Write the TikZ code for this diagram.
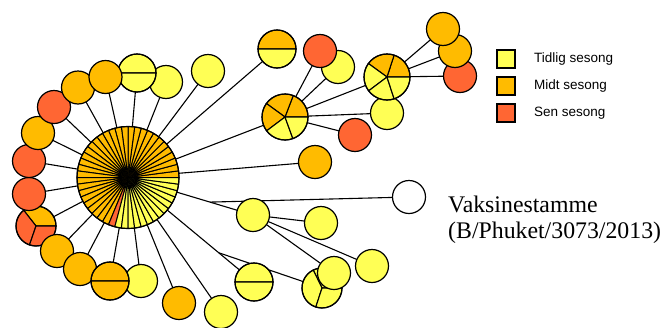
\documentclass[tikz,border=0pt]{standalone}
\usepackage{fontspec}
\setmainfont{Liberation Serif}
\newfontfamily\legfont{Liberation Sans}
\usetikzlibrary{calc}
\definecolor{cy}{HTML}{FFFF55}
\definecolor{co}{HTML}{FFBB00}
\definecolor{cr}{HTML}{FF6633}
\pgfdeclarelayer{edges}
\pgfsetlayers{edges,main}
\tikzset{
  nd/.style={circle, draw, line width=1.2pt, minimum size=33, inner sep=0pt},
  edge/.style={line width=1.1pt, draw=black},
  legbox/.style={draw, line width=1.1pt, minimum size=18, inner sep=0pt},
  legtext/.style={anchor=west, inner sep=0pt, font=\legfont\fontsize{13.5}{16}\selectfont},
  vactext/.style={anchor=base west, inner sep=0pt, font=\fontsize{23.8}{28}\selectfont}
}
\newcommand\pienode[4]{%
  \node[circle, minimum size=2*#3, inner sep=0pt] (#1) at #2 {};
  \foreach \aa/\bb/\cc in {#4} {
    \filldraw[fill=\cc, line width=1.1pt, line join=round] (#1.center) -- ++(\aa:#3) arc[start angle=\aa, end angle=\bb, radius=#3] -- cycle;
  }
  \draw[line width=1.2pt] (#1.center) circle[radius=#3];
}
\begin{document}
\begin{tikzpicture}[x=1pt,y=1pt]
\useasboundingbox (0,0) rectangle (663,-327);

% central pie
\node[circle, minimum size=102, inner sep=0pt] (c) at (128,-177.5) {};
\foreach \i in {0,...,47} {
  \pgfmathsetmacro\aa{\i*7.5}
  \pgfmathsetmacro\bb{\i*7.5+7.5}
  \ifnum\i<33 \def\col{co}\else\ifnum\i=33 \def\col{cr}\else\def\col{cy}\fi\fi
  \filldraw[fill=\col, line width=1pt, line join=round] (c.center) -- ++(\aa:51) arc[start angle=\aa, end angle=\bb, radius=51] -- cycle;
}
\draw[line width=1.2pt] (c.center) circle[radius=51];

% left arc
\pienode{n7}{(36,-226)}{20}{0/128/co,128/251/cr,251/360/cr}
\node[nd, fill=cr] (n6) at (29,-194) {};
\node[nd, fill=cr] (n5) at (29,-161) {};
\node[nd, fill=co] (n4) at (38,-133) {};
\node[nd, fill=cr] (n3) at (54,-107) {};
\node[nd, fill=co] (n2) at (78,-87.5) {};
\node[nd, fill=cy] (n23) at (166,-82) {};
\pienode{n22}{(137,-73)}{19}{0/180/cy,180/360/cy}
\node[nd, fill=co] (n1) at (105.5,-77) {};
\node[nd, fill=cy] (n24) at (208,-71) {};

% bottom
\node[nd, fill=co] (n8) at (57,-251) {};
\node[nd, fill=cy] (n11) at (141,-281) {};
\node[nd, fill=co] (n9) at (80,-269) {};
\pienode{n10}{(110,-281)}{19}{0/180/co,180/360/co}
\node[nd, fill=co] (n12) at (179,-303) {};
\node[nd, fill=cy] (n13) at (221,-312) {};
\pienode{n14}{(254,-282)}{19}{0/180/cy,180/360/cy}
\node[nd, fill=cy] (n15) at (253,-215) {};
\node[nd, fill=cy] (n16) at (321,-223) {};
\node[nd, fill=cy] (n17) at (372,-266) {};
\pienode{n18}{(322,-288)}{20}{0/116/cy,116/252/cy,252/360/cy}
\node[nd, fill=cy] (n19) at (334,-273) {};
\node[nd, fill=white] (vac) at (409,-197) {};

% upper right
\pienode{n25}{(277,-49)}{19}{0/180/co,180/360/cy}
\node[nd, fill=cy] (n27) at (338,-67) {};
\node[nd, fill=cr] (n26) at (320,-51) {};
\pienode{n28}{(285,-117)}{23}{0/69/co,69/144/co,144/217/co,217/290/cy,290/360/cy}
\node[nd, fill=cy] (n30) at (387,-113) {};
\pienode{n29}{(387,-77)}{23}{0/72/co,72/144/co,144/217/cy,217/288/cy,288/360/cy}
\node[nd, fill=cr] (n31) at (355,-135) {};
\node[nd, fill=co] (n32) at (315,-162) {};
\node[nd, fill=cr] (n35) at (460,-76) {};
\node[nd, fill=co] (n34) at (455,-51) {};
\node[nd, fill=co] (n33) at (443,-29) {};

\coordinate (j1) at ($(c.center)!0.656!(n15.center)$);
\coordinate (j2) at ($(c.center)!0.72!(n14.center)$);

\begin{pgfonlayer}{edges}
\foreach \n in {n1,n2,n3,n4,n5,n6,n7,n8,n9,n10,n11,n12,n13,n14,n15,n22,n23,n24,n25,n28,n32}
  \draw[edge] (c.center) -- (\n.center);
\draw[edge] (j1) -- (vac.center);
\draw[edge] (j2) -- (n18.center);
\foreach \n in {n16,n17,n19} \draw[edge] (n15.center) -- (\n.center);
\foreach \n in {n26,n27,n29,n30,n31} \draw[edge] (n28.center) -- (\n.center);
\foreach \n in {n33,n34,n35} \draw[edge] (n29.center) -- (\n.center);
\end{pgfonlayer}

% legend
\node[legbox, fill=cy] (l1) at (506,-59) {};
\node[legbox, fill=co] (l2) at (506,-86) {};
\node[legbox, fill=cr] (l3) at (506,-113) {};
\node[legtext] (t1) at (534,-59) {Tidlig sesong};
\node[legtext] (t2) at (534,-86) {Midt sesong};
\node[legtext] (t3) at (534,-113) {Sen sesong};

% vaccine label
\node[vactext] (v1) at (448,-212) {Vaksinestamme};
\node[vactext] (v2) at (448,-238) {(B/Phuket/3073/2013)};
\end{tikzpicture}
\end{document}
